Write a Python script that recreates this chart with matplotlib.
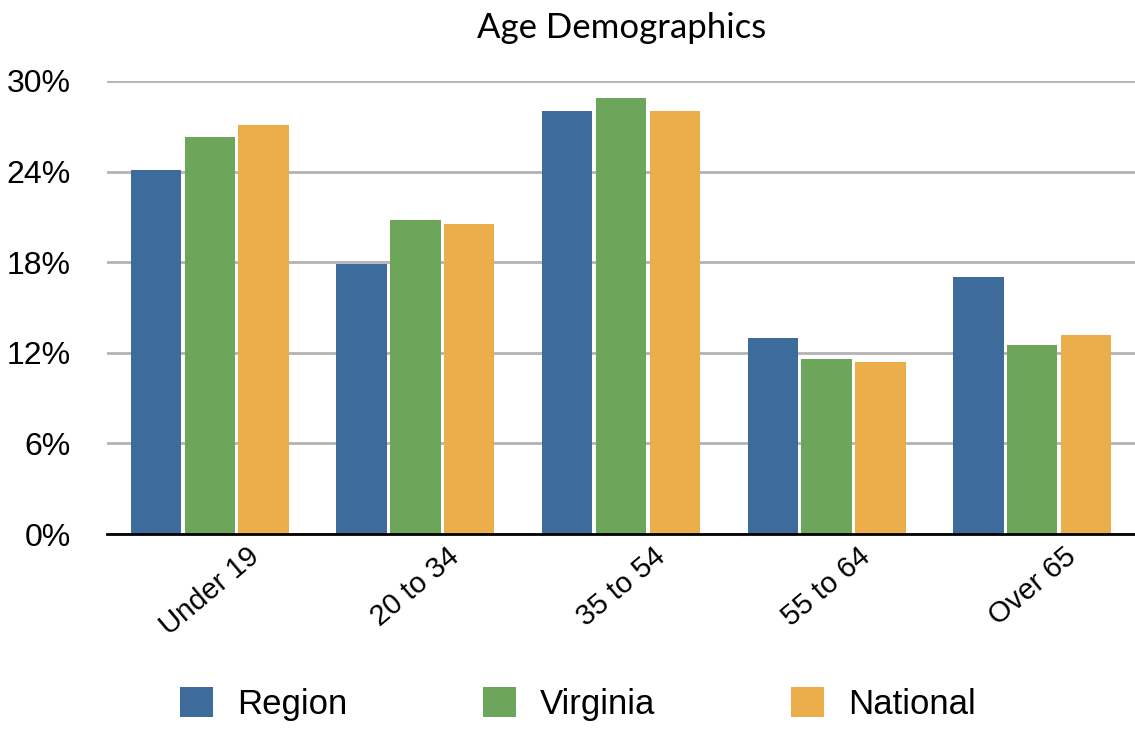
import numpy as np
import matplotlib.pyplot as plt
from matplotlib.ticker import FuncFormatter

# values (percent)
age_groups = ['Under 19', '20 to 34', '35 to 54', '55 to 64', 'Over 65']
region = [24.1, 17.9, 28.0, 13.0, 17.0]
virginia = [26.3, 20.8, 28.9, 11.6, 12.5]
national = [27.1, 20.5, 28.0, 11.4, 13.2]

series = [('Region', region, '#3d6b9c'),
          ('Virginia', virginia, '#6da55a'),
          ('National', national, '#ecae4b')]

plt.rcParams['font.family'] = ['Liberation Sans', 'DejaVu Sans']

fig = plt.figure(figsize=(11.35, 7.36), dpi=100)
ax = fig.add_axes([107 / 1135, 1 - 534 / 736, 1 - 107 / 1135, (534 - 81) / 736])

x = np.arange(len(age_groups))
width = 0.245
step = 0.262
for i, (name, vals, color) in enumerate(series):
    ax.bar(x + (i - 1) * step, vals, width, color=color, label=name, zorder=3)

ax.set_xlim(-0.5, len(age_groups) - 0.5)
ax.set_ylim(0, 30)
ax.set_yticks([0, 6, 12, 18, 24, 30])
ax.yaxis.set_major_formatter(FuncFormatter(lambda v, p: f'{v:.0f}%'))
ax.grid(axis='y', color='#b3b3b3', linewidth=2, zorder=0)
ax.set_axisbelow(True)

for s in ['top', 'right', 'left']:
    ax.spines[s].set_visible(False)
ax.spines['bottom'].set_linewidth(2)
ax.spines['bottom'].set_color('black')
ax.spines['bottom'].set_zorder(4)

ax.tick_params(axis='both', length=0)
ax.tick_params(axis='y', pad=26, labelsize=23)
ax.set_xticks(x)
ax.set_xticklabels(age_groups, rotation=40, ha='center', va='top', fontsize=21)
ax.tick_params(axis='x', pad=6)

fig.text(0.548, 1 - 28 / 736, 'Age Demographics', ha='center', va='center',
         fontsize=25, family=['Lato', 'DejaVu Sans'])

# legend sits at the very bottom edge, like the reference
fig.legend(loc='lower left', bbox_to_anchor=(163 / 1135, -2 / 736), ncol=3,
           frameon=False, handlelength=0.95, handleheight=0.95,
           handletextpad=0.69, columnspacing=3.9, borderpad=0.0,
           prop={'family': ['Liberation Sans Narrow', 'Liberation Sans'], 'size': 25})

fig.savefig('out.png', dpi=100)
